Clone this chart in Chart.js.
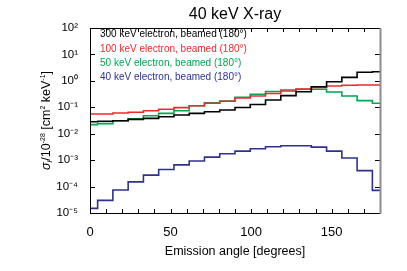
<!DOCTYPE html>
<html><head><meta charset="utf-8">
<script src="https://cdn.jsdelivr.net/npm/chart.js@4/dist/chart.umd.min.js"></script>
<style>html,body{margin:0;padding:0;background:#fff}#wrap{width:407px;height:271px}</style>
</head><body><div id="wrap"><canvas id="c" width="407" height="271"></canvas></div>
<script>
// Emission-angle bin centres (degrees)
const angles = [0, 9.47, 18.95, 28.42, 37.89, 47.37, 56.84, 66.32, 75.79, 85.26, 94.74, 104.21, 113.68, 123.16, 132.63, 142.11, 151.58, 161.05, 170.53, 180];
// Series values (sigma / 1e-28 cm^2 keV^-1)
const e300 = [0.0285, 0.0295, 0.031, 0.035, 0.038, 0.044, 0.051, 0.059, 0.068, 0.079, 0.098, 0.128, 0.189, 0.275, 0.389, 0.60, 0.93, 1.36, 2.11, 2.22];
const e100 = [0.056, 0.056, 0.061, 0.065, 0.074, 0.084, 0.097, 0.115, 0.142, 0.169, 0.225, 0.267, 0.333, 0.413, 0.492, 0.561, 0.64, 0.68, 0.70, 0.70];
const e50  = [0.022, 0.024, 0.031, 0.037, 0.048, 0.059, 0.074, 0.115, 0.149, 0.173, 0.239, 0.31, 0.395, 0.45, 0.48, 0.48, 0.38, 0.267, 0.178, 0.142];
const e40  = [1.5e-5, 3.0e-5, 7.4e-5, 1.5e-4, 2.7e-4, 4.4e-4, 6.6e-4, 9.3e-4, 1.3e-3, 1.75e-3, 2.2e-3, 2.7e-3, 3.2e-3, 3.5e-3, 3.5e-3, 3.1e-3, 2.2e-3, 1.2e-3, 4.0e-4, 7.2e-5];
const seriesLabels = ['300 keV electron, beamed (180°)', '100 keV electron, beamed (180°)', '50 keV electron, beamed (180°)', '40 keV electron, beamed (180°)'];
const seriesColors = ['#000000', '#ee2a2e', '#00a651', '#2e3192'];
// Tick labels / positions
const xTickVals = [0, 50, 100, 150];
const xMinorTicks = [10, 20, 30, 40, 50, 60, 70, 80, 90, 100, 110, 120, 130, 140, 150, 160, 170];
const yTickVals = [1e-5, 1e-4, 1e-3, 1e-2, 1e-1, 1e0, 1e1, 1e2];
const yTickLabels = ['10⁻⁵', '10⁻⁴', '10⁻³', '10⁻²', '10⁻¹', '10⁰', '10¹', '10²'];
const chartTitle = '40 keV X-ray';
const xTitle = 'Emission angle [degrees]';

const FONT = '"Liberation Sans", Arial, Helvetica, sans-serif';
const allSeries = [e300, e100, e50, e40];
const datasets = allSeries.map((s, i) => ({
  label: seriesLabels[i],
  data: angles.map((a, k) => ({x: a, y: s[k]})),
  borderColor: seriesColors[i],
  borderWidth: 1.6,
  pointRadius: 0,
  stepped: 'middle',
  fill: false,
}));

function drawRich(ctx, parts, size) {
  let w = 0;
  parts.forEach(p => { ctx.font = (p.it ? 'italic ' : '') + (p.s || size) + 'px ' + FONT; p.w = ctx.measureText(p.t).width; w += p.w; });
  let x = -w / 2;
  parts.forEach(p => { ctx.font = (p.it ? 'italic ' : '') + (p.s || size) + 'px ' + FONT; ctx.fillText(p.t, x, p.dy || 0); x += p.w; });
}

const decor = {
  id: 'decor',
  afterDatasetsDraw(chart) {
    const {ctx, chartArea: a, scales: {x, y}} = chart;
    ctx.save();
    ctx.strokeStyle = '#000'; ctx.lineWidth = 1;
    ctx.beginPath();
    xMinorTicks.forEach(v => {
      const px = Math.round(x.getPixelForValue(v)) + 0.5;
      ctx.moveTo(px, a.bottom); ctx.lineTo(px, a.bottom - 4);
      ctx.moveTo(px, a.top); ctx.lineTo(px, a.top + 4);
    });
    yTickVals.forEach(v => {
      const py = Math.round(y.getPixelForValue(v)) + 0.5;
      ctx.moveTo(a.left, py); ctx.lineTo(a.left + 5, py);
      ctx.moveTo(a.right, py); ctx.lineTo(a.right - 5, py);
    });
    ctx.stroke();
    ctx.beginPath();
    ctx.moveTo(Math.round(a.right), Math.round(a.top) + 0.5);
    ctx.lineTo(Math.round(a.left) + 0.5, Math.round(a.top) + 0.5);
    ctx.lineTo(Math.round(a.left) + 0.5, Math.round(a.bottom) + 0.5);
    ctx.lineTo(Math.round(a.right), Math.round(a.bottom) + 0.5);
    ctx.stroke();
    ctx.strokeStyle = '#8c8c8c'; ctx.lineWidth = 2;
    ctx.beginPath();
    ctx.moveTo(Math.round(a.right) + 0.5, Math.round(a.top));
    ctx.lineTo(Math.round(a.right) + 0.5, Math.round(a.bottom) + 1);
    ctx.stroke();

    // title
    ctx.fillStyle = '#000';
    ctx.textAlign = 'center'; ctx.textBaseline = 'middle';
    ctx.font = '16px ' + FONT;
    ctx.fillText(chartTitle, (a.left + a.right) / 2, 15);

    // legend
    ctx.textAlign = 'left'; ctx.textBaseline = 'middle';
    ctx.font = '10px ' + FONT;
    chart.data.datasets.forEach((d, i) => {
      ctx.fillStyle = d.borderColor;
      ctx.fillText(d.label, a.left + 10, 34.5 + i * 14.4);
    });

    // y title
    ctx.fillStyle = '#000';
    ctx.translate(47, (a.top + a.bottom) / 2);
    ctx.rotate(-Math.PI / 2);
    ctx.textAlign = 'left'; ctx.textBaseline = 'middle';
    drawRich(ctx, [
      {t: 'σ', it: true}, {t: 'l', s: 8, dy: 3, it: true}, {t: '/10'}, {t: '-28', s: 7, dy: -4},
      {t: ' [cm'}, {t: '2', s: 7, dy: -4}, {t: ' keV'}, {t: '-1', s: 7, dy: -4}, {t: ']'}
    ], 12.5);
    ctx.restore();
  }
};

new Chart(document.getElementById('c'), {
  type: 'line',
  data: {datasets},
  options: {
    responsive: false,
    devicePixelRatio: 1,
    animation: false,
    layout: {padding: {top: 28, right: 27, left: 0, bottom: 0}},
    plugins: {legend: {display: false}, tooltip: {enabled: false}, title: {display: false}},
    scales: {
      x: {
        type: 'linear', min: 0, max: 180,
        grid: {display: false, drawTicks: false},
        border: {display: false},
        afterBuildTicks: s => { s.ticks = xTickVals.map(v => ({value: v})); },
        afterFit: s => { s.height = 58; },
        ticks: {color: '#000', font: {family: FONT, size: 13}, padding: 12, maxRotation: 0},
        title: {display: true, text: xTitle, color: '#000', font: {family: FONT, size: 12.5}, padding: {top: 4, bottom: 12}}
      },
      y: {
        type: 'logarithmic', min: 1e-5, max: 1e2,
        grid: {display: false, drawTicks: false},
        border: {display: false},
        afterBuildTicks: s => { s.ticks = yTickVals.map(v => ({value: v})); },
        afterFit: s => { s.width = 90; },
        ticks: {color: '#000', font: {family: FONT, size: 11.5}, padding: 12,
          callback: (v) => { const i = yTickVals.findIndex(t => Math.abs(Math.log10(t) - Math.log10(v)) < 1e-6); return i >= 0 ? yTickLabels[i] : ''; }}
      }
    }
  },
  plugins: [decor]
});
</script></body></html>
